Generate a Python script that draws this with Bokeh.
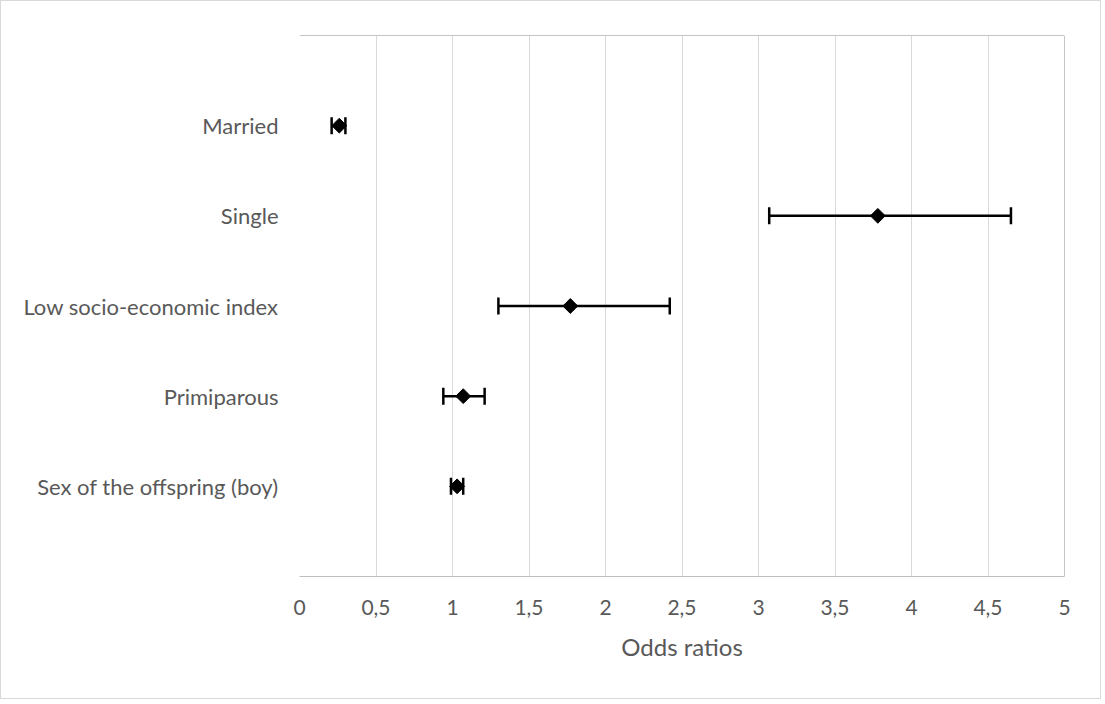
import math
from bokeh.plotting import figure
from bokeh.models import FixedTicker, Range1d, Whisker, ColumnDataSource, Span
from bokeh.embed import file_html
from bokeh.resources import INLINE

categories = ["Married", "Single", "Low socio-economic index", "Primiparous", "Sex of the offspring (boy)"]
odds = [0.26, 3.78, 1.77, 1.07, 1.03]
lower = [0.21, 3.07, 1.30, 0.94, 0.99]
upper = [0.30, 4.65, 2.42, 1.21, 1.07]
x_ticks = [0, 0.5, 1, 1.5, 2, 2.5, 3, 3.5, 4, 4.5, 5]
x_labels = ["0", "0,5", "1", "1,5", "2", "2,5", "3", "3,5", "4", "4,5", "5"]

ypos = [len(categories) - i for i in range(len(categories))]
src = ColumnDataSource(dict(y=ypos, x=odds, lo=lower, hi=upper))

FONT = "Lato"
TXT = "#595959"

p = figure(width=1101, height=699, output_backend="svg", toolbar_location=None,
           x_range=Range1d(0, 5), y_range=Range1d(0, 6),
           min_border_left=298, min_border_right=38, min_border_top=34, min_border_bottom=124)
p.styles = {"border": "1px solid #d9d9d9"}
p.outline_line_color = None
p.background_fill_color = "white"
p.border_fill_color = "white"

p.xaxis.ticker = FixedTicker(ticks=x_ticks)
p.xaxis.major_label_overrides = {t: l for t, l in zip(x_ticks, x_labels)}
p.xaxis.axis_label = "Odds ratios"
p.xaxis.axis_label_text_font = FONT
p.xaxis.axis_label_text_font_style = "normal"
p.xaxis.axis_label_text_font_size = "24px"
p.xaxis.axis_label_text_color = TXT
p.xaxis.axis_label_standoff = 14
p.xaxis.major_label_text_font = FONT
p.xaxis.major_label_text_font_size = "21px"
p.xaxis.major_label_text_color = TXT
p.xaxis.major_label_standoff = 17
p.xaxis.major_tick_line_color = None
p.xaxis.minor_tick_line_color = None
p.xaxis.axis_line_color = "#bfbfbf"

p.yaxis.ticker = FixedTicker(ticks=ypos)
p.yaxis.major_label_overrides = {y: c for y, c in zip(ypos, categories)}
p.yaxis.major_label_text_font = FONT
p.yaxis.major_label_text_font_size = "22px"
p.yaxis.major_label_text_color = TXT
p.yaxis.major_label_standoff = 15
p.yaxis.major_tick_line_color = None
p.yaxis.minor_tick_line_color = None
p.yaxis.axis_line_color = None

p.xgrid.ticker = FixedTicker(ticks=x_ticks)
p.xgrid.grid_line_color = "#d9d9d9"
p.xgrid.grid_line_width = 1
p.ygrid.grid_line_color = None

p.add_layout(Span(location=5, dimension="height", line_color="#8c8c8c", line_width=1))
p.add_layout(Span(location=6, dimension="width", line_color="#8c8c8c", line_width=1))

w = Whisker(source=src, base="y", lower="lo", upper="hi", dimension="width",
            line_color="black", line_width=2.5)
w.upper_head.size = 17
w.lower_head.size = 17
w.upper_head.line_width = 2.5
w.lower_head.line_width = 2.5
w.upper_head.line_color = "black"
w.lower_head.line_color = "black"
p.add_layout(w)

p.scatter("x", "y", source=src, marker="square", angle=math.pi / 4, size=10.5, color="black")

open("out.html", "w").write(file_html(p, INLINE))
